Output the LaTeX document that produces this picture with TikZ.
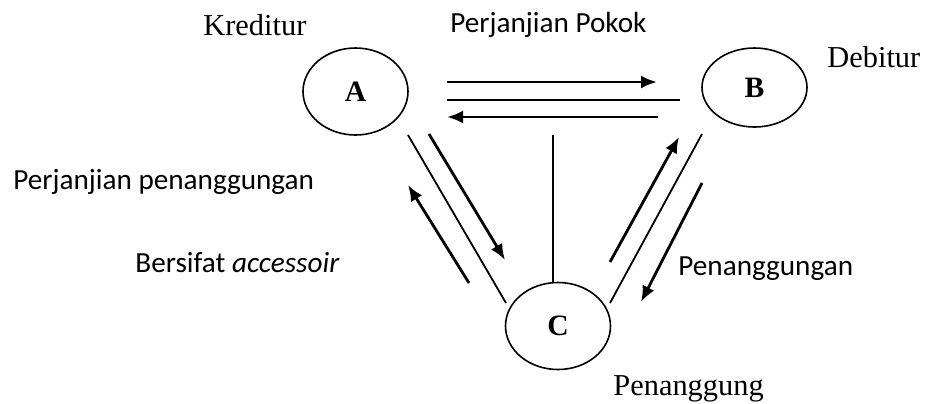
\documentclass[tikz,border=0pt]{standalone}
\usepackage{fontspec}
\setmainfont{Liberation Serif}
\setsansfont{Carlito}
\usetikzlibrary{shapes.geometric,arrows.meta}
\begin{document}
\begin{tikzpicture}
[x=0.5pt, y=-0.5pt, line join=round, >={Latex[length=8pt,width=6.5pt]},
party/.style={draw, ellipse, line width=0.8pt, minimum width=52.5pt, minimum height=43.5pt, inner sep=0pt, font=\fontsize{14.8}{17}\selectfont\bfseries},
arrowline/.style={->, line width=1.4pt},
plainline/.style={line width=0.9pt},
seriflabel/.style={font=\fontsize{15.2}{18}\selectfont, anchor=base west, inner sep=0pt},
sanslabel/.style={font=\sffamily\fontsize{14.6}{18}\selectfont, anchor=base west, inner sep=0pt}]
\useasboundingbox (0,0) rectangle (927,403);
% parties
\node[party] (A) at (355.5,91.5) {A};
\node[party, minimum height=39.5pt] (B) at (754.5,87.5) {B};
\node[party] (C) at (558,326) {C};
% labels
\node[seriflabel] (kreditur) at (203,35) {Kreditur};
\node[sanslabel] (pokok) at (450,32) {Perjanjian Pokok};
\node[seriflabel] (debitur) at (827,67) {Debitur};
\node[sanslabel] (pp) at (13,189) {Perjanjian penanggungan};
\node[sanslabel] (accessoir) at (135,272) {Bersifat \textit{accessoir}};
\node[sanslabel] (penanggungan) at (678,275) {Penanggungan};
\node[seriflabel] (penanggung) at (613,395) {Penanggung};
% line ends
\foreach \n/\x/\y in {ab1/447/82, ab2/657/82, ab3/447/100, ab4/680/100, ba1/658/117, ba2/447/117,
ac1/408/135, ac2/506/303, ac3/429/134, ac4/505/260, ca1/469/283, ca2/408/185, v/553/135,
cb1/610/262, cb2/679/137, cb3/610/303, cb4/702/134, bc1/702/183, bc2/641/302}
\coordinate (\n) at (\x,\y);
\foreach \s/\e in {ab1/ab2, ba1/ba2, ac3/ac4, ca1/ca2, cb1/cb2, bc1/bc2}
\draw[arrowline] (\s) -- (\e);
\foreach \s/\e in {ab3/ab4, ac1/ac2, cb3/cb4}
\draw[plainline] (\s) -- (\e);
\draw[plainline] (v) -- (v |- C.north);
\end{tikzpicture}
\end{document}
